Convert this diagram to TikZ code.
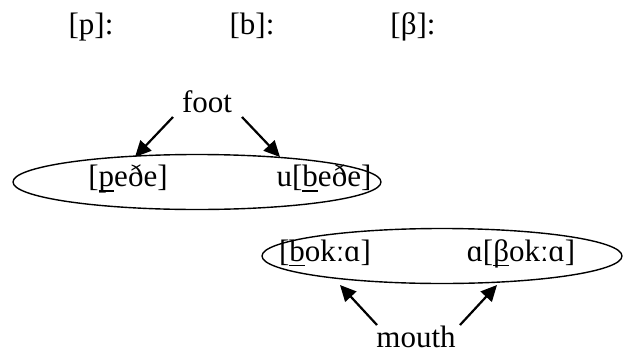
\documentclass[tikz,border=0pt]{standalone}
\usepackage{fontspec}
\setmainfont{Liberation Serif}[Ligatures=TeX]
\usetikzlibrary{arrows.meta,shapes.geometric}
\newcommand{\ulc}[1]{\setbox0\hbox{#1}\rlap{\rule[-5pt]{\wd0}{1.4pt}}\box0}
\tikzset{
  lbl/.style={anchor=base,inner sep=0pt,font=\rmfamily\fontsize{31}{36}\selectfont},
  oval/.style={draw,line width=1.4pt,ellipse,inner sep=0pt},
  arr/.style={line width=2.2pt,-{Triangle[length=16pt,width=15pt]}}
}
\begin{document}
\begin{tikzpicture}[x=1pt,y=-1pt]
\useasboundingbox (0,0) rectangle (625,354);
\node[lbl] (hp) at (91,34.5) {[p]:};
\node[lbl] (hb) at (252,34.5) {[b]:};
\node[lbl] (hbeta) at (413,34.5) {[β]:};
\node[lbl] (foot) at (207,112) {foot};
\node[oval,minimum width=368pt,minimum height=55pt] (e1) at (197,182) {};
\node[lbl] (pede) at (128,186.5) {[\ulc{p}eðe]};
\node[lbl] (ubede) at (324,186.5) {u[\ulc{b}eðe]};
\node[oval,minimum width=360pt,minimum height=55pt] (e2) at (442,256) {};
\node[lbl] (boka) at (325,261) {[\ulc{b}okːɑ]};
\node[lbl] (aboka) at (521,261) {ɑ[\ulc{β}okːɑ]};
\node[lbl] (mouth) at (416,347) {mouth};
\coordinate (f1) at (173,117);
\coordinate (f2) at (242,117);
\coordinate (t1) at (135,157);
\coordinate (t2) at (280,157);
\coordinate (m1) at (377,325);
\coordinate (m2) at (460,325);
\coordinate (u1) at (340,285);
\coordinate (u2) at (497,285);
\draw[arr] (f1) -- (t1);
\draw[arr] (f2) -- (t2);
\draw[arr] (m1) -- (u1);
\draw[arr] (m2) -- (u2);
\end{tikzpicture}
\end{document}
